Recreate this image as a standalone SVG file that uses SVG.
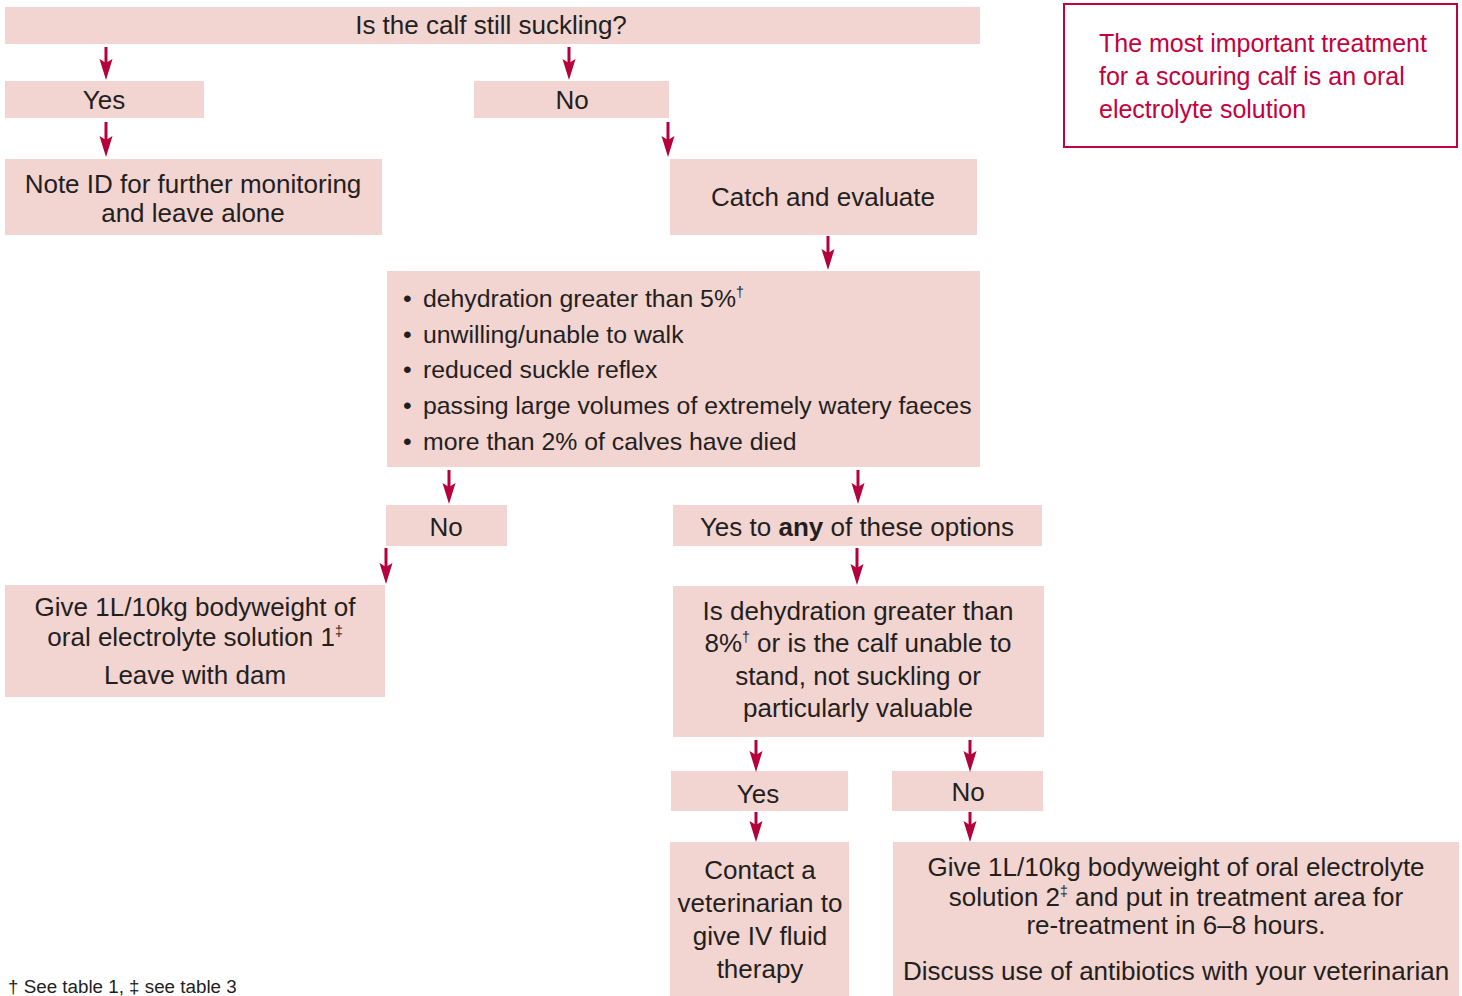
<svg xmlns="http://www.w3.org/2000/svg" width="1462" height="996" viewBox="0 0 1462 996">
<defs>
<style>
.box{fill:#f2d4d0;}
.t{font-family:"Liberation Sans",Arial,sans-serif;font-size:26px;fill:#231f20;}
.b{font-size:24.8px;}
.c{text-anchor:middle;}
.r{font-family:"Liberation Sans",Arial,sans-serif;font-size:25px;fill:#c4003e;}
.sup{font-size:14px;}
.conn line{stroke:#b5003b;stroke-width:3;}
</style>
<marker id="ah" viewBox="0 -7 21 14" refX="4" refY="0" markerWidth="21" markerHeight="14" markerUnits="userSpaceOnUse" orient="auto">
<path d="M0,-6.5 L21,0 L0,6.5 L4,0 Z" fill="#b5003b"/>
</marker>
</defs>
<rect width="1462" height="996" fill="#ffffff"/>

<g id="n-top"><rect class="box" x="5" y="7" width="975" height="37"/><text class="t c" x="491" y="34">Is the calf still suckling?</text></g>
<g id="n-yes1"><rect class="box" x="5" y="81" width="199" height="37"/><text class="t c" x="104" y="109">Yes</text></g>
<g id="n-no1"><rect class="box" x="474" y="81" width="195" height="37"/><text class="t c" x="572" y="109">No</text></g>
<g id="n-note"><rect class="box" x="5" y="159" width="377" height="76"/><text class="t c" x="193" y="193">Note ID for further monitoring</text><text class="t c" x="193" y="222">and leave alone</text></g>
<g id="n-catch"><rect class="box" x="670" y="159" width="307" height="76"/><text class="t c" x="823" y="206">Catch and evaluate</text></g>
<g id="n-bullets"><rect class="box" x="387" y="271" width="593" height="196"/>
<text class="t b" x="403" y="307">•</text><text class="t b" x="423" y="307">dehydration greater than 5%<tspan class="sup" dy="-10">†</tspan></text>
<text class="t b" x="403" y="343">•</text><text class="t b" x="423" y="343">unwilling/unable to walk</text>
<text class="t b" x="403" y="378">•</text><text class="t b" x="423" y="378">reduced suckle reflex</text>
<text class="t b" x="403" y="414">•</text><text class="t b" x="423" y="414">passing large volumes of extremely watery faeces</text>
<text class="t b" x="403" y="450">•</text><text class="t b" x="423" y="450">more than 2% of calves have died</text>
</g>
<g id="n-no2"><rect class="box" x="386" y="505" width="121" height="41"/><text class="t c" x="446" y="536">No</text></g>
<g id="n-yesany"><rect class="box" x="673" y="505" width="369" height="41"/><text class="t c" x="857" y="536">Yes to <tspan font-weight="bold">any</tspan> of these options</text></g>
<g id="n-give1"><rect class="box" x="5" y="585" width="380" height="112"/>
<text class="t c" x="195" y="616">Give 1L/10kg bodyweight of</text>
<text class="t c" x="195" y="646">oral electrolyte solution 1<tspan class="sup" dy="-10">‡</tspan></text>
<text class="t c" x="195" y="684">Leave with dam</text>
</g>
<g id="n-dehyd"><rect class="box" x="673" y="586" width="371" height="151"/>
<text class="t c" x="858" y="620">Is dehydration greater than</text>
<text class="t c" x="858" y="652">8%<tspan class="sup" dy="-10">†</tspan><tspan dy="10"> or is the calf unable to</tspan></text>
<text class="t c" x="858" y="685">stand, not suckling or</text>
<text class="t c" x="858" y="717">particularly valuable</text>
</g>
<g id="n-yes3"><rect class="box" x="671" y="771" width="177" height="40"/><text class="t c" x="758" y="803">Yes</text></g>
<g id="n-no3"><rect class="box" x="892" y="771" width="151" height="40"/><text class="t c" x="968" y="801">No</text></g>
<g id="n-contact"><rect class="box" x="670" y="842" width="179" height="154"/>
<text class="t c" x="760" y="879">Contact a</text>
<text class="t c" x="760" y="912">veterinarian to</text>
<text class="t c" x="760" y="945">give IV fluid</text>
<text class="t c" x="760" y="978">therapy</text>
</g>
<g id="n-give2"><rect class="box" x="893" y="842" width="566" height="154"/>
<text class="t c" x="1176" y="876">Give 1L/10kg bodyweight of oral electrolyte</text>
<text class="t c" x="1176" y="906">solution 2<tspan class="sup" dy="-10">‡</tspan><tspan dy="10"> and put in treatment area for</tspan></text>
<text class="t c" x="1176" y="934">re-treatment in 6–8 hours.</text>
<text class="t c" x="1176" y="980">Discuss use of antibiotics with your veterinarian</text>
</g>
<g id="n-note-red"><rect x="1064" y="4" width="393" height="143" fill="none" stroke="#c4003e" stroke-width="2"/>
<text class="r" x="1099" y="52">The most important treatment</text>
<text class="r" x="1099" y="85">for a scouring calf is an oral</text>
<text class="r" x="1099" y="118">electrolyte solution</text>
</g>
<g id="footnote"><text class="t" x="8" y="993" style="font-size:18.8px">† See table 1, ‡ see table 3</text></g>

<g id="connectors" class="conn">
<line x1="106" y1="47" x2="106" y2="63" marker-end="url(#ah)"/>
<line x1="569" y1="47" x2="569" y2="63" marker-end="url(#ah)"/>
<line x1="106" y1="122" x2="106" y2="140" marker-end="url(#ah)"/>
<line x1="668" y1="122" x2="668" y2="140" marker-end="url(#ah)"/>
<line x1="828" y1="236" x2="828" y2="253" marker-end="url(#ah)"/>
<line x1="449" y1="470" x2="449" y2="487" marker-end="url(#ah)"/>
<line x1="858" y1="470" x2="858" y2="487" marker-end="url(#ah)"/>
<line x1="386" y1="548" x2="386" y2="567" marker-end="url(#ah)"/>
<line x1="857" y1="548" x2="857" y2="568" marker-end="url(#ah)"/>
<line x1="756" y1="740" x2="756" y2="755" marker-end="url(#ah)"/>
<line x1="970" y1="740" x2="970" y2="755" marker-end="url(#ah)"/>
<line x1="756" y1="812" x2="756" y2="825" marker-end="url(#ah)"/>
<line x1="970" y1="812" x2="970" y2="825" marker-end="url(#ah)"/>
</g>
</svg>
